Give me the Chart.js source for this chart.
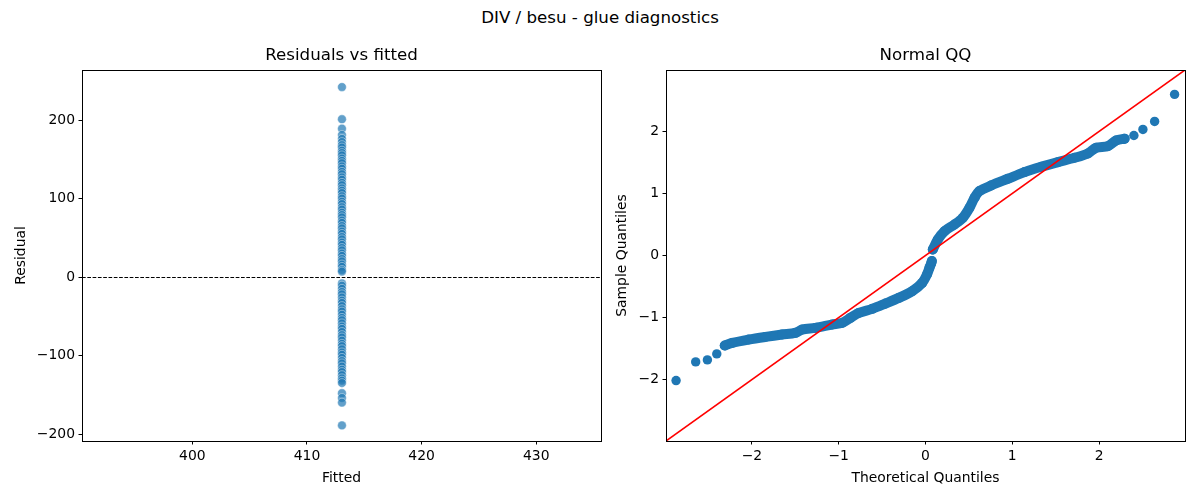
<!DOCTYPE html>
<html>
<head>
<meta charset="utf-8">
<script src="https://cdn.jsdelivr.net/npm/chart.js@4.4.1/dist/chart.umd.min.js"></script>
<style>
  html, body { margin:0; padding:0; background:#fff; }
  body { width:1200px; height:500px; position:relative; overflow:hidden; font-family:"DejaVu Sans", sans-serif; }
  #suptitle { position:absolute; left:0; top:8px; width:1200px; text-align:center; font-size:16.67px; line-height:20px; color:#000; }
  .box { position:absolute; top:0; height:500px; }
  #leftBox { left:0; width:615px; }
  #rightBox { left:600px; width:600px; }
</style>
</head>
<body>
<div id="suptitle">DIV / besu - glue diagnostics</div>
<div class="box" id="leftBox"><canvas id="resid"></canvas></div>
<div class="box" id="rightBox"><canvas id="qq"></canvas></div>
<script>
// ---------------- data ----------------
const fittedValue = 413.05;
const residuals = [
  242, 201, 189, 181, 176, 172, 168, 165, 161, 158, 155, 151, 148, 145, 141, 138,
  134, 131, 127, 124, 120, 117, 113, 110, 107, 103, 100, 96, 93, 89, 86, 82, 79,
  76, 72, 69, 65, 62, 58, 55, 51, 48, 44, 41, 37, 34, 30, 27, 23, 20, 16, 13, 9, 7,
  -8, -11, -15, -19, -22, -26, -30, -33, -37, -41, -44, -48, -52, -55, -59, -63,
  -66, -70, -74, -77, -81, -85, -88, -92, -96, -99, -103, -107, -110, -114, -118,
  -121, -125, -129, -132, -135, -148, -154, -160, -189
];
const residXTicks = [400, 410, 420, 430];
const residYTicks = [-200, -100, 0, 100, 200];

// QQ plot: isolated tail points
const qqTailTheo = [-2.874, -2.648, -2.513, -2.405, 2.401, 2.505, 2.640, 2.870];
const qqTailSample = [-2.016, -1.715, -1.683, -1.586, 1.935, 2.032, 2.161, 2.597];
// QQ plot: dense lower arm (read along the band)
const qqLowTheo = [-2.313, -2.228, -2.037, -1.844, -1.652, -1.499, -1.421, -1.268, -1.076, -0.961,
  -0.865, -0.768, -0.614, -0.461, -0.307, -0.154, -0.038, 0.019, 0.045, 0.065, 0.073];
const qqLowSample = [-1.452, -1.409, -1.355, -1.312, -1.274, -1.247, -1.194, -1.167, -1.113, -1.086,
  -1.005, -0.925, -0.860, -0.774, -0.683, -0.575, -0.441, -0.300, -0.200, -0.130, -0.090];
// QQ plot: dense upper arm
const qqUpTheo = [0.084, 0.142, 0.219, 0.334, 0.430, 0.507, 0.565, 0.622, 0.757, 0.949, 1.141,
  1.334, 1.526, 1.718, 1.871, 1.967, 2.102, 2.198, 2.294];
const qqUpSample = [0.097, 0.258, 0.392, 0.500, 0.608, 0.769, 0.930, 1.038, 1.129, 1.237, 1.344,
  1.430, 1.505, 1.575, 1.645, 1.737, 1.763, 1.855, 1.882];
const qqTicks = [-2, -1, 0, 1, 2];

// ---------------- helpers ----------------
Chart.defaults.font.family = '"DejaVu Sans", sans-serif';
Chart.defaults.color = '#000';
const TICK_FONT = { size: 13.9 };
const minus = v => String(v).replace('-', '\u2212');
const pairs = (xs, ys) => xs.map((x, i) => ({ x: x, y: ys[i] }));
const crisp = v => Math.round(v - 0.5) + 0.5;

const framePlugin = {
  id: 'frame',
  afterDraw(chart) {
    const { ctx, chartArea: a } = chart;
    const l = crisp(a.left), t = crisp(a.top), r = crisp(a.right), b = crisp(a.bottom);
    ctx.save();
    ctx.strokeStyle = '#000';
    ctx.lineWidth = 1;
    ctx.strokeRect(l, t, r - l, b - t);
    ctx.restore();
  }
};

function axis(pos, min, max, ticks, title, size, titlePad) {
  return {
    type: 'linear', position: pos, min: min, max: max,
    afterBuildTicks: s => { s.ticks = ticks.map(v => ({ value: v })); },
    afterFit: s => { if (pos === 'left') s.width = size; else s.height = size; },
    grid: { drawOnChartArea: false, drawTicks: true, tickLength: 3.5, tickColor: '#000', tickWidth: 1 },
    border: { display: false },
    ticks: { font: TICK_FONT, padding: 3.5, maxRotation: 0, autoSkip: false, callback: v => minus(v) },
    title: { display: true, text: title, font: { size: 13.9 }, padding: titlePad }
  };
}

function titleOpt(text) {
  return { display: true, text: text, fullSize: false, font: { size: 16.67, weight: 'normal' },
           color: '#000', padding: { top: 46, bottom: 4 } };
}

// ---------------- residuals vs fitted ----------------
const zeroLinePlugin = {
  id: 'zeroLine',
  afterDatasetsDraw(chart) {
    const { ctx, chartArea: a } = chart;
    const y = crisp(chart.scales.y.getPixelForValue(0));
    ctx.save();
    ctx.strokeStyle = '#000';
    ctx.lineWidth = 1;
    ctx.setLineDash([3.7, 1.6]);
    ctx.beginPath();
    ctx.moveTo(a.left, y);
    ctx.lineTo(a.right, y);
    ctx.stroke();
    ctx.restore();
  }
};

new Chart(document.getElementById('resid'), {
  type: 'scatter',
  data: {
    datasets: [{
      data: residuals.map(r => ({ x: fittedValue, y: r })),
      pointRadius: 4.4,
      pointBorderWidth: 0.6,
      backgroundColor: 'rgba(31,119,180,0.7)',
      borderColor: 'rgba(255,255,255,0.7)'
    }]
  },
  options: {
    responsive: true, maintainAspectRatio: false, animation: false,
    layout: { padding: { left: 0, right: 14, top: 0, bottom: 0 } },
    plugins: { legend: { display: false }, tooltip: { enabled: false }, title: titleOpt('Residuals vs fitted') },
    scales: {
      x: axis('bottom', 390.37, 435.65, residXTicks, 'Fitted', 59, { bottom: 13.7 }),
      y: axis('left', -208.9, 263.7, residYTicks, 'Residual', 82, { top: 12.7 })
    }
  },
  plugins: [framePlugin, zeroLinePlugin]
});

// ---------------- normal QQ ----------------
const refLinePlugin = {
  id: 'refLine',
  afterDatasetsDraw(chart) {
    const { ctx, chartArea: a } = chart;
    const xs = chart.scales.x, ys = chart.scales.y;
    const lo = Math.max(xs.min, ys.min), hi = Math.min(xs.max, ys.max);
    ctx.save();
    ctx.beginPath();
    ctx.rect(a.left, a.top, a.right - a.left, a.bottom - a.top);
    ctx.clip();
    ctx.strokeStyle = '#ff0000';
    ctx.lineWidth = 1.6;
    ctx.beginPath();
    ctx.moveTo(xs.getPixelForValue(lo), ys.getPixelForValue(lo));
    ctx.lineTo(xs.getPixelForValue(hi), ys.getPixelForValue(hi));
    ctx.stroke();
    ctx.restore();
  }
};

const QQ_BLUE = '#1f77b4';
const band = (xs, ys) => ({
  data: pairs(xs, ys), showLine: true, borderColor: QQ_BLUE, backgroundColor: QQ_BLUE,
  borderWidth: 10, borderCapStyle: 'round', borderJoinStyle: 'round', pointRadius: 5, pointBorderWidth: 0, tension: 0.3
});

new Chart(document.getElementById('qq'), {
  type: 'scatter',
  data: {
    datasets: [
      band(qqLowTheo, qqLowSample),
      band(qqUpTheo, qqUpSample),
      { data: pairs(qqTailTheo, qqTailSample), backgroundColor: QQ_BLUE, borderColor: QQ_BLUE,
        pointRadius: 4.7, pointBorderWidth: 0 }
    ]
  },
  options: {
    responsive: true, maintainAspectRatio: false, animation: false,
    layout: { padding: { left: 0, right: 15, top: 0, bottom: 0 } },
    plugins: { legend: { display: false }, tooltip: { enabled: false }, title: titleOpt('Normal QQ') },
    scales: {
      x: axis('bottom', -2.99, 2.99, qqTicks, 'Theoretical Quantiles', 59, { bottom: 13.7 }),
      y: axis('left', -2.99, 2.99, qqTicks, 'Sample Quantiles', 66, { top: 13.7 })
    }
  },
  plugins: [framePlugin, refLinePlugin]
});
</script>
</body>
</html>
